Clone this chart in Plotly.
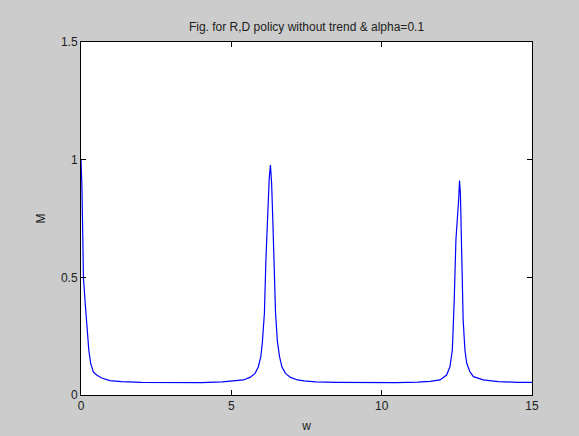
import plotly.graph_objects as go

# Values
w_vals = [0.0, 0.03, 0.06, 0.08, 0.14, 0.19, 0.26, 0.32, 0.41, 0.52, 0.69, 0.96, 1.35, 2.0, 3.0, 4.0,
          4.7, 5.18, 5.40, 5.62, 5.79, 5.90, 5.98, 6.03, 6.10, 6.15, 6.22, 6.26, 6.30,
          6.34, 6.38, 6.43, 6.47, 6.53, 6.60, 6.68, 6.80, 6.97, 7.20, 7.42, 7.8, 8.5, 9.5, 10.5,
          11.2, 11.61, 11.94, 12.16, 12.27, 12.35, 12.41, 12.47, 12.56, 12.59,
          12.62, 12.65, 12.71, 12.77, 12.83, 12.93, 13.05, 13.38, 13.88, 14.5, 15.0]
M_vals = [1.0, 0.885, 0.67, 0.50, 0.39, 0.31, 0.19, 0.135, 0.098, 0.085, 0.072, 0.061, 0.057, 0.054, 0.053, 0.053,
          0.056, 0.060, 0.064, 0.075, 0.092, 0.12, 0.163, 0.22, 0.347, 0.574, 0.80, 0.92, 0.977,
          0.90, 0.74, 0.50, 0.35, 0.23, 0.165, 0.12, 0.092, 0.075, 0.064, 0.060, 0.056, 0.054, 0.053, 0.053,
          0.055, 0.058, 0.064, 0.085, 0.12, 0.19, 0.39, 0.66, 0.83, 0.911,
          0.85, 0.66, 0.32, 0.19, 0.135, 0.10, 0.078, 0.064, 0.057, 0.054, 0.054]

x_ticks = [0, 5, 10, 15]
y_ticks = [0, 0.5, 1, 1.5]
y_tick_text = ["0", "0.5", "1", "1.5"]

title_text = "Fig. for R,D policy without trend & alpha=0.1"

fig = go.Figure()
fig.add_trace(go.Scatter(x=w_vals, y=M_vals, mode="lines",
                         line=dict(color="#0000ff", width=1.2), showlegend=False,
                         hoverinfo="skip"))

font = dict(family="Liberation Sans, Arial, sans-serif", size=12, color="#202020")

axis_common = dict(showgrid=False, zeroline=False, showline=True, linecolor="black", linewidth=1,
                   mirror="ticks", ticks="inside", ticklen=5, tickcolor="black", tickwidth=1,
                   tickfont=font, automargin=False)

fig.update_layout(
    width=579, height=436,
    margin=dict(l=81, r=47, t=42, b=41),
    paper_bgcolor="#cccccc", plot_bgcolor="white",
    font=font,
    title=dict(text=title_text, x=(81 + 532) / 2 / 579, xanchor="center",
               y=1 - 27 / 436, yanchor="middle", yref="container", font=font),
    xaxis=dict(range=[0, 15], tickvals=x_ticks, ticktext=[str(t) for t in x_ticks],
               title=dict(text="w", font=font, standoff=9), **axis_common),
    yaxis=dict(range=[0, 1.5], tickvals=y_ticks, ticktext=y_tick_text,
               title=dict(text="M", font=font, standoff=12), **axis_common),
)

fig.write_html("out.html")
